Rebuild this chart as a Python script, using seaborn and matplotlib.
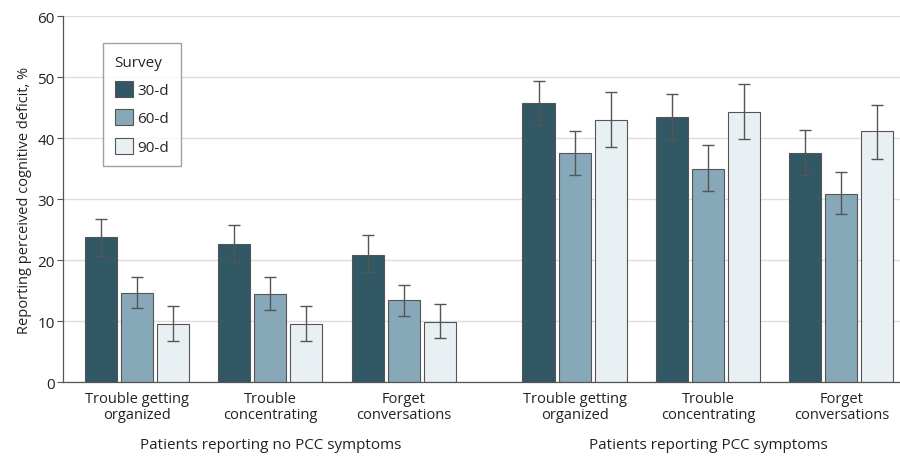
import numpy as np
import pandas as pd
import matplotlib
matplotlib.use("Agg")
from matplotlib import pyplot as plt
import seaborn as sns

sns.set_theme(style="white")
plt.rcParams["font.family"] = ["Open Sans", "DejaVu Sans"]

SYMPTOMS = ["Trouble getting\norganized", "Trouble\nconcentrating", "Forget\nconversations"]
GROUPS = ["Patients reporting no PCC symptoms", "Patients reporting PCC symptoms"]
SURVEYS = ["30-d", "60-d", "90-d"]
COLORS = ["#325765", "#86a8b8", "#e9f0f4"]

# value per survey, rows = symptom (no PCC first 3, then PCC 3)
pct_30 = [23.8, 22.6, 20.9, 45.8, 43.5, 37.6]
lo_30 = [20.7, 19.7, 18.1, 42.2, 39.9, 34.0]
hi_30 = [26.8, 25.8, 24.1, 49.4, 47.2, 41.4]

pct_60 = [14.6, 14.4, 13.4, 37.5, 34.9, 30.8]
lo_60 = [12.2, 11.9, 10.9, 34.0, 31.4, 27.5]
hi_60 = [17.3, 17.2, 16.0, 41.2, 38.8, 34.4]

pct_90 = [9.5, 9.5, 9.8, 42.9, 44.2, 41.1]
lo_90 = [6.8, 6.8, 7.3, 38.5, 39.8, 36.6]
hi_90 = [12.5, 12.5, 12.8, 47.5, 48.8, 45.5]

# cluster positions: second panel pushed right a bit
xpos = [0, 1, 2, 3.28, 4.28, 5.28]

rows = []
for surv, vals, los, his in zip(SURVEYS, [pct_30, pct_60, pct_90],
                                [lo_30, lo_60, lo_90], [hi_30, hi_60, hi_90]):
    for i in range(6):
        rows.append({"x": xpos[i], "survey": surv, "pct": vals[i],
                     "lo": los[i], "hi": his[i]})
df = pd.DataFrame(rows)

fig = plt.figure(figsize=(9, 4.6), dpi=100)
ax = fig.add_axes([0.07, 0.167, 0.93, 0.796])

sns.barplot(data=df, x="x", y="pct", hue="survey", hue_order=SURVEYS,
            palette=COLORS, saturation=1, native_scale=True, width=0.81,
            gap=0.11, errorbar=None, edgecolor="#555555", linewidth=0.8,
            ax=ax, legend=True)

# error bars at the bar centres
bars = [p for p in ax.patches if p.get_height() > 0]
for p in bars:
    cx = p.get_x() + p.get_width() / 2
    h = p.get_height()
    row = df[(np.isclose(df["pct"], h)) &
             (np.isclose(df["x"], cx, atol=0.35))].iloc[0]
    ax.errorbar(cx, h, yerr=[[h - row["lo"]], [row["hi"] - h]],
                fmt="none", ecolor="#555555", elinewidth=1, capsize=4,
                capthick=1, zorder=3)

ax.set_xlim(-0.555, 5.72)
ax.set_ylim(0, 60)
ax.set_yticks(range(0, 61, 10))
ax.set_xticks(xpos)
ax.set_xticklabels(SYMPTOMS * 2, fontsize=10.5, color="#222222", linespacing=1.1)
ax.tick_params(axis="x", length=0, pad=6)
ax.tick_params(axis="y", length=4, width=0.8, color="#555555", labelsize=11,
               labelcolor="#222222", left=True, pad=2)
ax.set_xlabel("")
ax.set_ylabel("Reporting perceived cognitive deficit, %", fontsize=10.5,
              color="#222222", labelpad=4)
ax.grid(axis="y", color="#dddddd", linewidth=1)
ax.set_axisbelow(True)
sns.despine(ax=ax, top=True, right=True)
for side in ["left", "bottom"]:
    ax.spines[side].set_color("#555555")
    ax.spines[side].set_linewidth(0.9)

trans = matplotlib.transforms.blended_transform_factory(ax.transData, ax.transAxes)
ax.text(np.mean(xpos[:3]), -0.17, GROUPS[0], transform=trans, ha="center",
        va="center", fontsize=11, color="#222222")
ax.text(np.mean(xpos[3:]), -0.17, GROUPS[1], transform=trans, ha="center",
        va="center", fontsize=11, color="#222222")

leg = ax.legend(title="Survey", loc="upper left", bbox_to_anchor=(0.048, 0.926),
                borderaxespad=0, frameon=True, fancybox=False, fontsize=11,
                title_fontsize=11, handlelength=1.2, handleheight=1.2,
                labelspacing=0.75, borderpad=0.75, handletextpad=0.3)
leg._legend_box.align = "left"
leg.get_frame().set_edgecolor("#888888")
leg.get_frame().set_linewidth(1)

fig.savefig("out.png", dpi=100)
